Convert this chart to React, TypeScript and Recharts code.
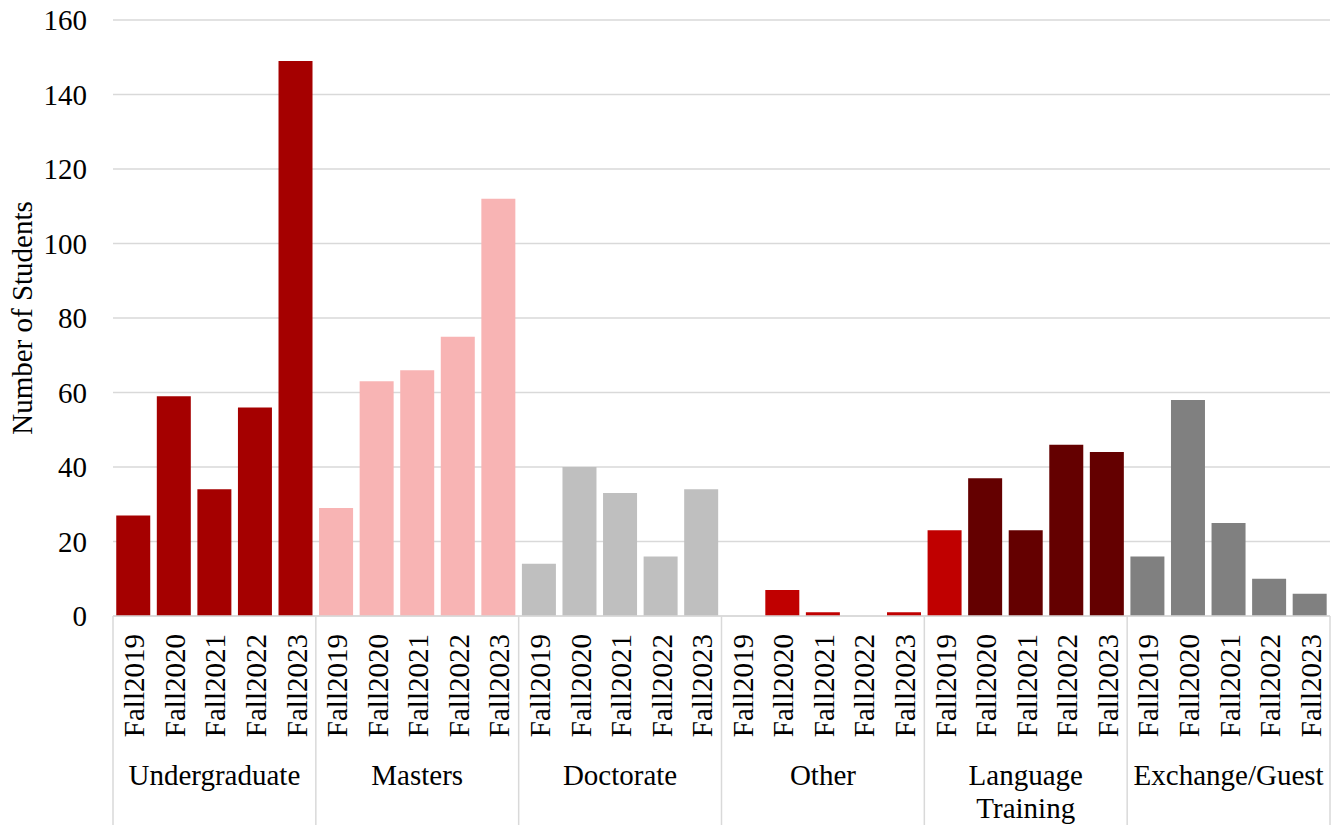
import { BarChart, Bar, XAxis, YAxis, CartesianGrid, Cell, Label } from 'recharts'

const groups = ['Undergraduate', 'Masters', 'Doctorate', 'Other', 'Language Training', 'Exchange/Guest']
const terms = ['Fall2019', 'Fall2020', 'Fall2021', 'Fall2022', 'Fall2023']

const undergraduate = [27, 59, 34, 56, 149]
const masters = [29, 63, 66, 75, 112]
const doctorate = [14, 40, 33, 16, 34]
const other = [0, 7, 1, 0, 1]
const languageTraining = [23, 37, 23, 46, 44]
const exchangeGuest = [16, 58, 25, 10, 6]

const yTicks = [0, 20, 40, 60, 80, 100, 120, 140, 160]

const groupColors = [
  ['#A50000', '#A50000', '#A50000', '#A50000', '#A50000'],
  ['#F8B4B4', '#F8B4B4', '#F8B4B4', '#F8B4B4', '#F8B4B4'],
  ['#BFBFBF', '#BFBFBF', '#BFBFBF', '#BFBFBF', '#BFBFBF'],
  ['#C00000', '#C00000', '#C00000', '#C00000', '#C00000'],
  ['#C00000', '#640000', '#640000', '#640000', '#640000'],
  ['#808080', '#808080', '#808080', '#808080', '#808080'],
]

const seriesByGroup = [undergraduate, masters, doctorate, other, languageTraining, exchangeGuest]

const data = seriesByGroup.flatMap((vals, g) =>
  vals.map((v, t) => ({
    id: `${g}-${t}`,
    group: groups[g],
    term: terms[t],
    value: v,
    color: groupColors[g][t],
    idx: g * 5 + t,
  }))
)

const W = 1338
const H = 825
const MARGIN = { top: 20, right: 8, bottom: 0, left: 0 }
const Y_AXIS_W = 113
const X_AXIS_H = 209
const SLOT = (W - MARGIN.left - MARGIN.right - Y_AXIS_W) / data.length
const FONT = '"Liberation Serif", "Times New Roman", serif'
const FS = 29
const GRID = '#D9D9D9'

function CategoryTick(props: any) {
  const { x, y, payload } = props
  const row = data.find((d) => d.id === payload.value)
  if (!row) return null
  const pos = row.idx % 5
  const lines = row.group === 'Language Training' ? ['Language', 'Training'] : [row.group]
  return (
    <g>
      <text
        transform={`translate(${x + 1},${y + 18}) rotate(-90)`}
        textAnchor="end"
        dominantBaseline="central"
        fontSize={FS}
        fontFamily={FONT}
        fill="#000"
      >
        {row.term}
      </text>
      {pos === 0 && (
        <line x1={x - SLOT / 2} x2={x - SLOT / 2} y1={y} y2={y + X_AXIS_H} stroke={GRID} strokeWidth={1.5} />
      )}
      {row.idx === data.length - 1 && (
        <line x1={x + SLOT / 2} x2={x + SLOT / 2} y1={y} y2={y + X_AXIS_H} stroke={GRID} strokeWidth={1.5} />
      )}
      {pos === 2 &&
        lines.map((l, i) => (
          <text
            key={l}
            x={x}
            y={y + 159 + i * 33}
            textAnchor="middle"
            dominantBaseline="central"
            fontSize={FS}
            fontFamily={FONT}
            fill="#000"
          >
            {l}
          </text>
        ))}
    </g>
  )
}

export default function App() {
  return (
    <div style={{ position: 'absolute', left: 0, top: 0, background: '#fff' }}>
      <BarChart width={W} height={H} data={data} margin={MARGIN} barCategoryGap="8%">
        <CartesianGrid vertical={false} stroke={GRID} strokeWidth={1.5} />
        <XAxis
          dataKey="id"
          interval={0}
          height={X_AXIS_H}
          tickSize={0}
          tickMargin={0}
          tickLine={false}
          axisLine={{ stroke: GRID, strokeWidth: 1.5 }}
          tick={<CategoryTick />}
        />
        <YAxis
          width={Y_AXIS_W}
          domain={[0, 160]}
          ticks={yTicks}
          axisLine={false}
          tickLine={false}
          tickMargin={20}
          tick={{ fontSize: FS, fontFamily: FONT, fill: '#000' }}
        >
          <Label
            content={(p: any) => {
              const vb = p.viewBox
              const cx = vb.x + 22
              const cy = vb.y + vb.height / 2
              return (
                <text
                  transform={`translate(${cx},${cy}) rotate(-90)`}
                  textAnchor="middle"
                  dominantBaseline="central"
                  fontSize={FS}
                  fontFamily={FONT}
                  fill="#000"
                >
                  Number of Students
                </text>
              )
            }}
          />
        </YAxis>
        <Bar dataKey="value" isAnimationActive={false}>
          {data.map((d) => (
            <Cell key={d.id} fill={d.color} />
          ))}
        </Bar>
      </BarChart>
    </div>
  )
}
